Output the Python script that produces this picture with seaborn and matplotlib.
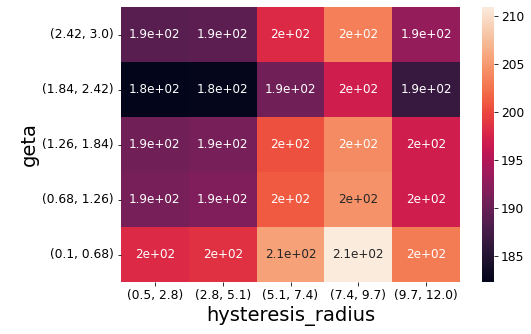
import numpy as np
import pandas as pd
import matplotlib
matplotlib.use("Agg")
import matplotlib.pyplot as plt
import seaborn as sns

geta_bins = ["(2.42, 3.0)", "(1.84, 2.42)", "(1.26, 1.84)", "(0.68, 1.26)", "(0.1, 0.68)"]
radius_bins = ["(0.5, 2.8)", "(2.8, 5.1)", "(5.1, 7.4)", "(7.4, 9.7)", "(9.7, 12.0)"]

row_242_30 = [189.0, 189.2, 198.0, 203.2, 193.0]
row_184_242 = [182.3, 182.6, 190.5, 197.0, 186.5]
row_126_184 = [190.5, 191.0, 200.5, 204.0, 197.0]
row_068_126 = [191.0, 191.5, 201.0, 204.5, 197.0]
row_010_068 = [198.0, 198.5, 205.5, 210.9, 203.0]

df = pd.DataFrame([row_242_30, row_184_242, row_126_184, row_068_126, row_010_068],
                  index=geta_bins, columns=radius_bins)
df.index.name = "geta"
df.columns.name = "hysteresis_radius"

fs = 12.3
fig = plt.figure(figsize=(531/72, 334/72), dpi=72)
ax = fig.add_axes([121/531, 1-282/334, (460-121)/531, 275/334])
cax = fig.add_axes([482/531, 1-282/334, 12/531, 275/334])
sns.heatmap(df, annot=True, ax=ax, cbar_ax=cax, annot_kws={"fontsize": 12})
ax.set_xlabel("hysteresis_radius", fontsize=19.5)
ax.set_ylabel("geta", fontsize=19.5)
ax.tick_params(labelsize=fs)
ax.set_yticklabels(ax.get_yticklabels(), rotation=0)
ax.set_xticklabels(ax.get_xticklabels(), rotation=0)
cax.tick_params(labelsize=fs)
fig.savefig("out.png", dpi=72)
